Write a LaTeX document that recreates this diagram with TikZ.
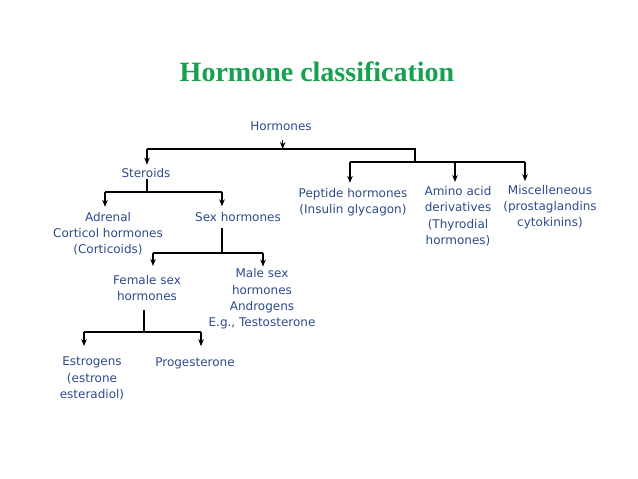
\documentclass[tikz,border=0pt]{standalone}
\usepackage{fontspec}
\setmainfont{Liberation Serif}
\newfontfamily\vfont{DejaVu Sans}
\usetikzlibrary{arrows.meta}
\definecolor{titlegreen}{RGB}{22,160,80}
\definecolor{lblue}{RGB}{45,75,140}
\begin{document}
\begin{tikzpicture}[x=1pt,y=-1pt,
  lbl/.style={text=lblue,font=\vfont\fontsize{12}{16.3}\selectfont,align=center,inner sep=0pt},
  ln/.style={line width=1.2pt,black},
  arr/.style={ln,-{Stealth[length=7pt,width=5.5pt]}}]
\useasboundingbox (0,0) rectangle (638,479);
\fill[white] (0,0) rectangle (638,479);
\node[font=\bfseries\fontsize{28}{32}\selectfont,text=titlegreen,inner sep=0pt] (title) at (317,72) {Hormone classification};
\node[lbl] (hormones) at (281,126) {Hormones};
\node[lbl] (steroids) at (146,173) {Steroids};
\node[lbl] (adrenal) at (108,233.7) {Adrenal\\Corticol hormones\\(Corticoids)};
\node[lbl] (sex) at (238,217) {Sex hormones};
\node[lbl] (female) at (147,288) {Female sex\\hormones};
\node[lbl] (male) at (262,299) {Male sex\\hormones\\Androgens\\E.g., Testosterone};
\node[lbl] (estrogens) at (92,378.7) {Estrogens\\(estrone\\esteradiol)};
\node[lbl] (progesterone) at (195,363) {Progesterone};
\node[lbl] (peptide) at (353,202) {Peptide hormones\\(Insulin glycagon)};
\node[lbl] (amino) at (458,216.2) {Amino acid\\derivatives\\(Thyrodial\\hormones)};
\node[lbl] (misc) at (550,207) {Miscelleneous\\(prostaglandins\\cytokinins)};
\coordinate (hj) at (282.7,149);
\coordinate (hL) at (147,149);
\coordinate (hR) at (415,149);
\coordinate (pR) at (415,162);
\coordinate (pL) at (350,162);
\coordinate (pM) at (455,162);
\coordinate (pE) at (525,162);
\coordinate (sj) at (147,192);
\coordinate (sL) at (105,192);
\coordinate (sR) at (222,192);
\coordinate (xj) at (222,253);
\coordinate (xL) at (153,253);
\coordinate (xR) at (263,253);
\coordinate (fj) at (144,332);
\coordinate (fL) at (84,332);
\coordinate (fR) at (201,332);
% Hormones
\draw[arr,shorten <=9pt] (hj |- hormones.south) -- (hj);
\draw[ln] (hL) -- (hR) -- (pR);
\draw[ln] (pL) -- (pE);
\draw[arr,shorten >=3.5pt] (hL) -- (hL |- steroids.north);
\draw[arr,shorten >=5pt] (pL) -- (pL |- peptide.north);
\draw[arr,shorten >=4.2pt] (pM) -- (pM |- amino.north);
\draw[arr,shorten >=3.5pt] (pE) -- (pE |- misc.north);
% Steroids
\draw[ln,shorten <=1pt] (sj |- steroids.south) -- (sj);
\draw[ln] (sL) -- (sR);
\draw[arr,shorten >=5pt] (sL) -- (sL |- adrenal.north);
\draw[arr,shorten >=5.8pt] (sR) -- (sR |- sex.north);
% Sex hormones
\draw[ln,shorten <=6.5pt] (xj |- sex.south) -- (xj);
\draw[ln] (xL) -- (xR);
\draw[arr,shorten >=9pt] (xL) -- (xL |- female.north);
\draw[arr,shorten >=2pt] (xR) -- (xR |- male.north);
% Female
\draw[ln,shorten <=9pt] (fj |- female.south) -- (fj);
\draw[ln] (fL) -- (fR);
\draw[arr,shorten >=11pt] (fL) -- (fL |- estrogens.north);
\draw[arr,shorten >=11pt] (fR) -- (fR |- progesterone.north);
\end{tikzpicture}
\end{document}
